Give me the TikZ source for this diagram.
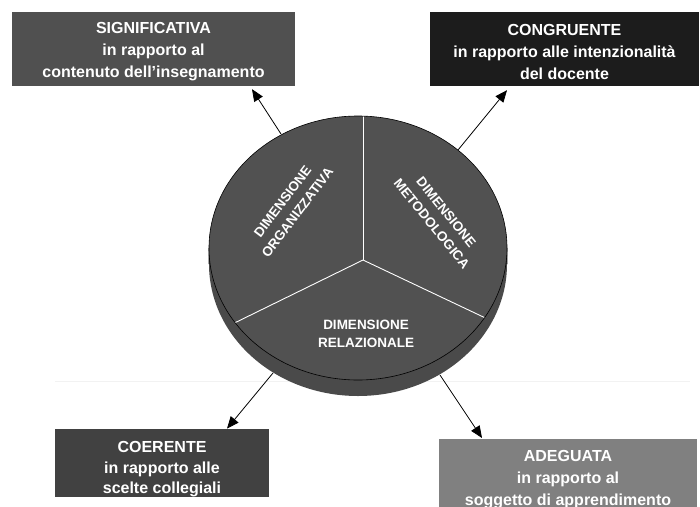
\documentclass[tikz,border=0pt]{standalone}
\usepackage{fontspec}
\setmainfont{Liberation Sans}
\usetikzlibrary{arrows.meta}

\definecolor{discgray}{HTML}{515151}
\definecolor{sidegray}{HTML}{4A4A4A}
\definecolor{boxA}{HTML}{505050}
\definecolor{boxB}{HTML}{1C1C1C}
\definecolor{boxC}{HTML}{414141}
\definecolor{boxD}{HTML}{808080}

\begin{document}
\begin{tikzpicture}[x=1pt,y=-1pt,
  infobox/.style={inner sep=0pt, text=white, align=center,
    font=\bfseries\fontsize{16}{22}\selectfont},
  disclabel/.style={inner sep=0pt, text=white, align=center,
    font=\bfseries\fontsize{13.5}{18.5}\selectfont},
  arr/.style={draw=black, line width=0.8pt,
    -{Triangle[length=12pt,width=10pt]}},
  divider/.style={draw=white, line width=0.9pt}
]
\clip (0,0) rectangle (700,506);
\fill[white] (0,0) rectangle (700,506);

% faint floor line behind the disc
\draw[black!5, line width=0.8pt] (55,381) -- (690,381);

% disc: side band, then top face
\fill[sidegray] (358,264) ellipse [x radius=149, y radius=132];
\fill[sidegray] (209,248) rectangle (507,264);
\draw[black, line width=0.7pt] (209,248) -- (209,264)
  arc [start angle=180, end angle=360, x radius=149, y radius=132] -- (507,248);
\fill[discgray] (358,248) ellipse [x radius=149, y radius=132];
\draw[black, line width=0.6pt] (358,248) ellipse [x radius=149, y radius=132];

% sector dividers on the top face
\coordinate (hub) at (363,260);
\begin{scope}
  \clip (358,248) ellipse [x radius=148.5, y radius=131.5];
  \draw[divider] (hub) -- (363,100);
  \draw[divider] (hub) -- (163,358);
  \draw[divider] (hub) -- (553,350);
\end{scope}

% sector labels
\node[disclabel, rotate=53] (org) at (290,207) {DIMENSIONE\\ORGANIZZATIVA};
\node[disclabel, rotate=-51] (met) at (439,218) {DIMENSIONE\\METODOLOGICA};
\node[disclabel] (rel) at (366,334) {DIMENSIONE\\RELAZIONALE};

% outer boxes
\node[infobox, fill=boxA, minimum width=283, minimum height=74] (sig) at (153.5,49)
  {\rule{0pt}{17pt}SIGNIFICATIVA\\in rapporto al\\contenuto dell’insegnamento};
\node[infobox, fill=boxB, minimum width=269, minimum height=74] (con) at (564.5,49)
  {\rule{0pt}{17pt}CONGRUENTE\\in rapporto alle intenzionalità\\del docente};
\node[infobox, fill=boxC, minimum width=214, minimum height=64,
  font=\bfseries\fontsize{16}{20.5}\selectfont] (coe) at (162,463)
  {\rule{0pt}{24pt}COERENTE\\in rapporto alle\\scelte collegiali};
\node[infobox, fill=boxD, minimum width=258, minimum height=80, anchor=north] (ade) at (568,439)
  {\rule{0pt}{12pt}ADEGUATA\\in rapporto al\\soggetto di apprendimento};

% connector start points on the disc rim
\coordinate (pSig) at (281,134);
\coordinate (pCon) at (458,150);
\coordinate (pCoe) at (273,373);
\coordinate (pAde) at (440,375);

\draw[arr] (pSig) -- ([xshift=98.5pt,yshift=-3pt]sig.south);
\draw[arr] (pCon) -- ([xshift=-57.5pt,yshift=-4pt]con.south);
\draw[arr] (pCoe) -- ([xshift=65pt]coe.north);
\draw[arr] (pAde) -- ([xshift=-86pt,yshift=1pt]ade.north);
\end{tikzpicture}
\end{document}
